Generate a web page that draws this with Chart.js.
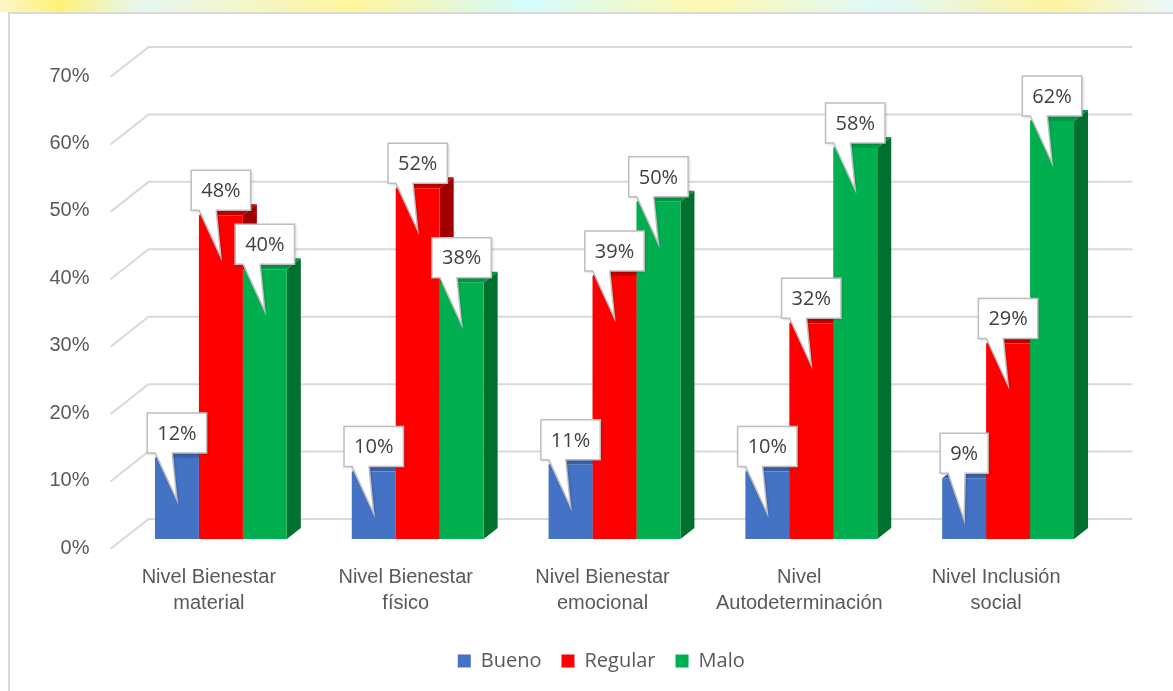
<!DOCTYPE html>
<html>
<head>
<meta charset="utf-8">
<script src="https://cdn.jsdelivr.net/npm/chart.js@4"></script>
<style>
  body { margin: 0; background: #fff; }
  canvas { display: block; }
</style>
</head>
<body>
<canvas id="chart" width="1173" height="691"></canvas>
<script>
const categories = [
  ["Nivel Bienestar", "material"],
  ["Nivel Bienestar", "físico"],
  ["Nivel Bienestar", "emocional"],
  ["Nivel", "Autodeterminación"],
  ["Nivel Inclusión", "social"],
];
const bueno = [12, 10, 11, 10, 9];
const regular = [48, 52, 39, 32, 29];
const malo = [40, 38, 50, 58, 62];
const yTicks = [0, 10, 20, 30, 40, 50, 60, 70];

const front = ["#4472C4", "#FF0000", "#00B050"];
const top3d = ["#3A62AA", "#C40000", "#009C45"];
const side3d = ["#2F4F8A", "#A00000", "#00702F"];
const DX = 14, DY = -11;

const axisFont = { family: "'Liberation Sans', Arial, sans-serif", size: 20, lineHeight: 1.3 };
const labelFont = "20px 'Open Sans', sans-serif";

// background watermark strip + outer border + 3d walls
const backdrop = {
  id: "backdrop",
  afterLayout(chart) {
    // centre the legend under the plot like the original
    chart.legend.left += 48;
    chart.legend.right += 48;
  },
  beforeDraw(chart) {
    const ctx = chart.ctx;
    ctx.save();
    ctx.fillStyle = "#fff";
    ctx.fillRect(0, 0, chart.width, chart.height);
    let g = ctx.createLinearGradient(0, 0, chart.width, 0);
    g.addColorStop(0, "#fdf6c8");
    g.addColorStop(0.05, "#fff176");
    g.addColorStop(0.12, "#e6f7f2");
    g.addColorStop(0.3, "#fff59d");
    g.addColorStop(0.45, "#d4fbfd");
    g.addColorStop(0.6, "#fff9b0");
    g.addColorStop(0.75, "#dff9fb");
    g.addColorStop(0.9, "#fff3a0");
    g.addColorStop(1, "#e9fafc");
    ctx.fillStyle = g;
    ctx.fillRect(0, 0, chart.width, 12);
    ctx.strokeStyle = "#d9d9d9";
    ctx.lineWidth = 2;
    ctx.strokeRect(9, 13, chart.width + 20, chart.height + 20);
    ctx.restore();
  },
  beforeDatasetsDraw(chart) {
    const ctx = chart.ctx;
    const y = chart.scales.y;
    const a = chart.chartArea;
    ctx.save();
    ctx.strokeStyle = "#d9d9d9";
    ctx.lineWidth = 2;
    yTicks.forEach((v) => {
      const py = y.getPixelForValue(v);
      ctx.beginPath();
      ctx.moveTo(a.left - 12, py + 10);
      ctx.lineTo(a.left + 26, py - 20);
      ctx.lineTo(a.right + 26, py - 20);
      ctx.stroke();
    });
    // top and side faces of the bars
    chart.data.datasets.forEach((ds, di) => {
      chart.getDatasetMeta(di).data.forEach((bar) => {
        const l = bar.x - bar.width / 2;
        const r = bar.x + bar.width / 2;
        ctx.fillStyle = side3d[di];
        ctx.beginPath();
        ctx.moveTo(r, bar.y);
        ctx.lineTo(r + DX, bar.y + DY);
        ctx.lineTo(r + DX, bar.base + DY);
        ctx.lineTo(r, bar.base);
        ctx.closePath();
        ctx.fill();
        ctx.fillStyle = top3d[di];
        ctx.beginPath();
        ctx.moveTo(l, bar.y);
        ctx.lineTo(r, bar.y);
        ctx.lineTo(r + DX, bar.y + DY);
        ctx.lineTo(l + DX, bar.y + DY);
        ctx.closePath();
        ctx.fill();
      });
    });
    ctx.restore();
  },
};

// callout data labels
const callouts = {
  id: "callouts",
  afterDatasetsDraw(chart) {
    const ctx = chart.ctx;
    ctx.save();
    ctx.font = labelFont;
    chart.data.datasets.forEach((ds, di) => {
      chart.getDatasetMeta(di).data.forEach((bar, i) => {
        const txt = ds.data[i] + "%";
        const w = Math.max(ctx.measureText(txt).width + 20, 46);
        const h = 40;
        const left = bar.x - w / 2;
        const bottom = bar.y - 5;
        const tipX = bar.x, tipY = bar.y + 42;
        ctx.beginPath();
        ctx.moveTo(left, bottom - h);
        ctx.lineTo(left + w, bottom - h);
        ctx.lineTo(left + w, bottom);
        ctx.lineTo(left + 25, bottom);
        ctx.lineTo(tipX, tipY);
        ctx.lineTo(left + 8, bottom);
        ctx.lineTo(left, bottom);
        ctx.closePath();
        ctx.shadowColor = "rgba(0,0,0,0.25)";
        ctx.shadowBlur = 3;
        ctx.shadowOffsetX = 1;
        ctx.shadowOffsetY = 1;
        ctx.fillStyle = "#fff";
        ctx.fill();
        ctx.shadowColor = "transparent";
        ctx.strokeStyle = "#bfbfbf";
        ctx.lineWidth = 1.5;
        ctx.stroke();
        ctx.fillStyle = "#404040";
        ctx.textAlign = "center";
        ctx.textBaseline = "middle";
        ctx.fillText(txt, bar.x, bottom - h / 2 + 1);
      });
    });
    ctx.restore();
  },
};

new Chart(document.getElementById("chart"), {
  type: "bar",
  data: {
    labels: categories,
    datasets: [
      { label: "Bueno", data: bueno, backgroundColor: front[0] },
      { label: "Regular", data: regular, backgroundColor: front[1] },
      { label: "Malo", data: malo, backgroundColor: front[2] },
    ],
  },
  options: {
    responsive: false,
    animation: false,
    devicePixelRatio: 1,
    layout: { padding: { left: 0, right: 66.5, top: 67, bottom: 10 } },
    datasets: {
      bar: { categoryPercentage: 0.67, barPercentage: 1.0, borderWidth: 0 },
    },
    plugins: {
      legend: {
        position: "bottom",
        labels: {
          boxWidth: 13,
          boxHeight: 13,
          padding: 20,
          color: "#595959",
          font: { family: "'Open Sans', sans-serif", size: 20 },
        },
      },
      tooltip: { enabled: false },
    },
    scales: {
      x: {
        grid: { display: false, drawTicks: false },
        border: { display: false },
        ticks: {
          color: "#595959",
          font: axisFont,
          padding: 25,
          labelOffset: -12,
          maxRotation: 0,
          autoSkip: false,
        },
        afterFit(scale) {
          scale.height = 92;
        },
      },
      y: {
        min: 0,
        max: 70,
        grid: { display: false, drawTicks: false },
        border: { display: false },
        ticks: {
          stepSize: 10,
          color: "#595959",
          font: axisFont,
          padding: 33,
          labelOffset: 9,
          callback: (v) => v + "%",
        },
        afterFit(scale) {
          scale.width = 122.5;
        },
      },
    },
  },
  plugins: [backdrop, callouts],
});
</script>
</body>
</html>
